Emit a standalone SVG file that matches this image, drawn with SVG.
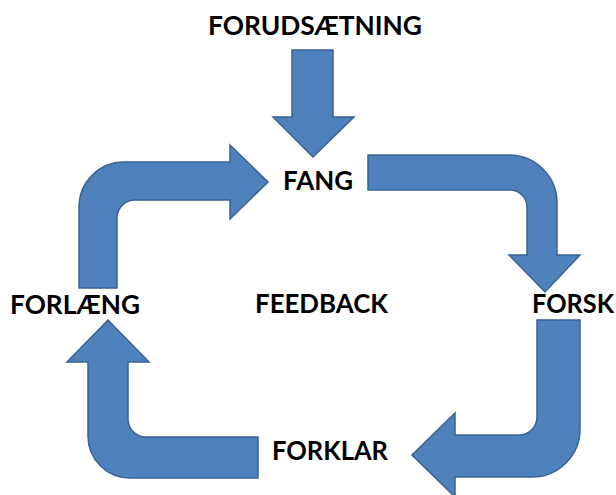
<svg xmlns="http://www.w3.org/2000/svg" width="616" height="495" viewBox="0 0 616 495">
  <style>
    .lbl { font-family: Lato, "Open Sans", "Liberation Sans", sans-serif; font-weight: 700; font-size: 26px; fill: #000000; }
    .arr { fill: #4F81BD; stroke: #3A6291; stroke-width: 1.5; stroke-linejoin: miter; }
  </style>
  <rect x="0" y="0" width="616" height="495" fill="#ffffff"/>
  <g id="connectors">
    <path id="arrow-forudsaetning-fang" class="arr" d="M292,50 H333 V117 H354 L313,157 L273,117 H292 Z"/>
    <path id="arrow-fang-forsk" class="arr" d="M368,155 H509 A48,48 0 0 1 557,203 V255 H580 L545,292 L509,255 H527 V207 A17,17 0 0 0 510,190 H368 Z"/>
    <path id="arrow-forsk-forklar" class="arr" d="M537,320 H580 V429 A48,48 0 0 1 532,477 H455 V497 L412,455 L455,413 V435 H519 A18,18 0 0 0 537,417 Z"/>
    <path id="arrow-forklar-forlaeng" class="arr" d="M258,437 V478 H130 A42,42 0 0 1 88,436 V362 H67 L108,320 L149,362 H128 V419 A18,18 0 0 0 146,437 Z"/>
    <path id="arrow-forlaeng-fang" class="arr" d="M79,288 V207 A45,45 0 0 1 124,162 H230 V145 L268,182 L230,219 V200 H135 A18,18 0 0 0 117,218 V288 Z"/>
  </g>
  <g id="node-forudsaetning"><text class="lbl" x="208" y="35" textLength="214" lengthAdjust="spacingAndGlyphs">FORUDSÆTNING</text></g>
  <g id="node-fang"><text class="lbl" x="283" y="190" textLength="70" lengthAdjust="spacingAndGlyphs">FANG</text></g>
  <g id="node-forsk"><text class="lbl" x="532" y="313" textLength="82" lengthAdjust="spacingAndGlyphs">FORSK</text></g>
  <g id="node-forklar"><text class="lbl" x="272" y="460" textLength="116" lengthAdjust="spacingAndGlyphs">FORKLAR</text></g>
  <g id="node-forlaeng"><text class="lbl" x="10" y="314" textLength="130" lengthAdjust="spacingAndGlyphs">FORLÆNG</text></g>
  <g id="node-feedback"><text class="lbl" x="255" y="313" textLength="133" lengthAdjust="spacingAndGlyphs">FEEDBACK</text></g>
</svg>
